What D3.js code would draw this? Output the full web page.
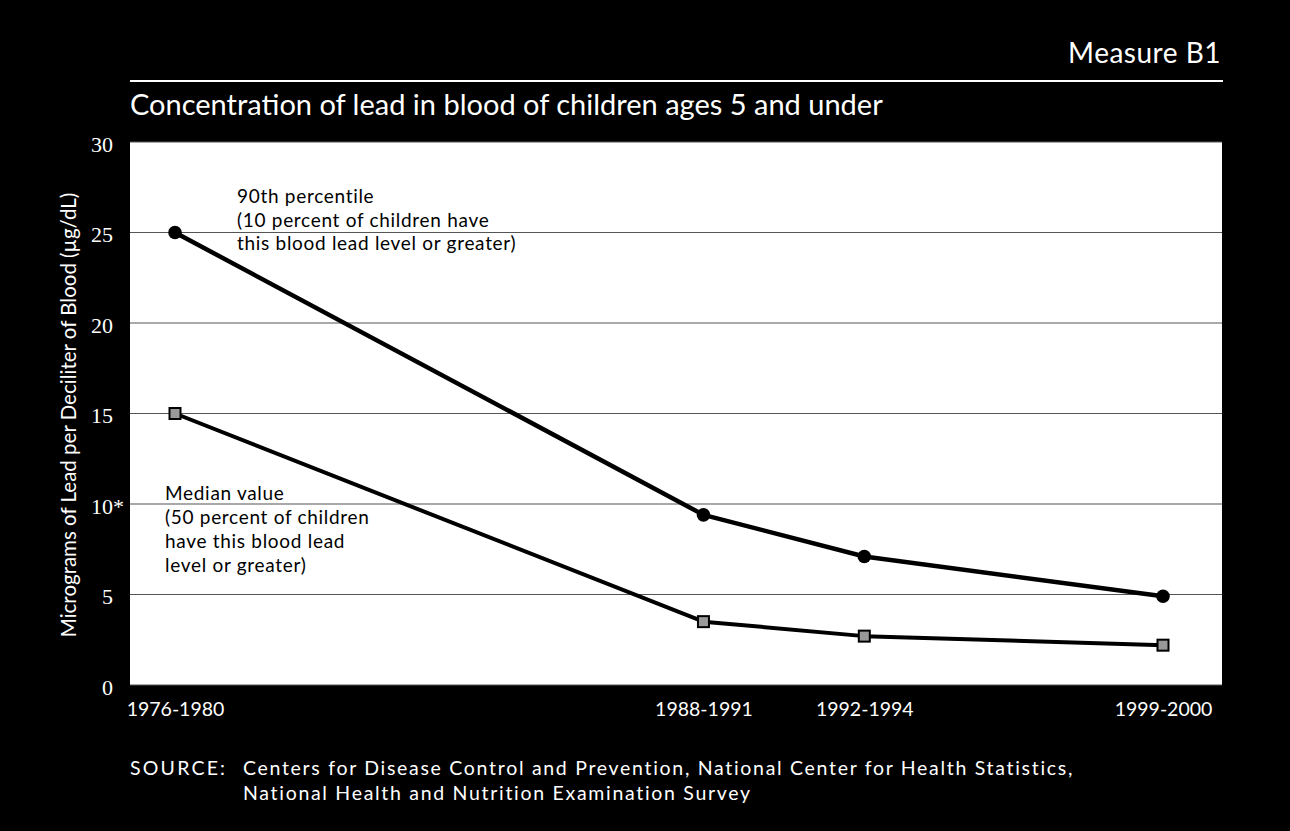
<!DOCTYPE html>
<html><head><meta charset="utf-8">
<script src="https://cdn.jsdelivr.net/npm/d3@7"></script>
<style>html,body{margin:0;padding:0;background:#000;}svg{display:block;}</style>
</head><body>
<svg id="chart" width="1290" height="831"></svg>
<script>
const periods = ["1976-1980", "1988-1991", "1992-1994", "1999-2000"];
const periodMid = [1978, 1989.5, 1993, 1999.5];
const p90 = [25, 9.4, 7.1, 4.9];
const median = [15, 3.5, 2.7, 2.2];
const yTicks = [0, 5, 10, 15, 20, 25, 30];
const yTickLabels = ["0", "5", "10*", "15", "20", "25", "30"];

const svg = d3.select("#chart");
const W = 1290, H = 831;
svg.append("rect").attr("width", W).attr("height", H).attr("fill", "#000");

const plot = {left: 130, right: 1222, top: 142, bottom: 685};
const x = d3.scaleLinear().domain([1978, 1999.5]).range([175, 1163]);
const y = d3.scaleLinear().domain([0, 30]).range([plot.bottom, plot.top]);

const sans = "Lato, 'Open Sans', sans-serif";

// header
svg.append("text").attr("x", 1221).attr("y", 63).attr("text-anchor", "end")
  .attr("fill", "#fff").attr("font-family", sans).attr("font-size", 28)
  .attr("letter-spacing", 0.5).text("Measure B1");
svg.append("line").attr("x1", plot.left).attr("x2", 1223).attr("y1", 81).attr("y2", 81)
  .attr("stroke", "#fff").attr("stroke-width", 2);
svg.append("text").attr("x", plot.left).attr("y", 115)
  .attr("fill", "#fff").attr("font-family", sans).attr("font-size", 29)
  .text("Concentration of lead in blood of children ages 5 and under");

// plot background
svg.append("rect").attr("x", plot.left).attr("y", plot.top)
  .attr("width", plot.right - plot.left).attr("height", plot.bottom - plot.top).attr("fill", "#fff");

// gridlines
svg.append("g").selectAll("line").data(yTicks).join("line")
  .attr("x1", plot.left).attr("x2", plot.right)
  .attr("y1", d => y(d)).attr("y2", d => y(d))
  .attr("stroke", "#555").attr("stroke-width", 1.2);

// y axis labels
const yAxis = d3.axisLeft(y).tickValues(yTicks).tickSize(0).tickPadding(0)
  .tickFormat((d, i) => yTickLabels[i]);
const ya = svg.append("g").attr("transform", `translate(113,0)`).call(yAxis);
ya.select(".domain").remove();
ya.selectAll("text").attr("fill", "#fff").attr("font-family", "'Liberation Serif', 'DejaVu Serif', serif")
  .attr("font-size", 22).attr("text-anchor", "end").attr("dy", "0.42em")
  .attr("dx", (d, i) => yTickLabels[i].includes("*") ? 11 : 0);

svg.append("text")
  .attr("transform", `translate(76,415) rotate(-90)`)
  .attr("text-anchor", "middle").attr("fill", "#fff")
  .attr("font-family", sans).attr("font-size", 20.5)
  .text("Micrograms of Lead per Deciliter of Blood (\u00b5g/dL)");

// x axis labels
const xAxis = d3.axisBottom(x).tickValues(periodMid).tickSize(0).tickPadding(0)
  .tickFormat((d, i) => periods[i]);
const xa = svg.append("g").attr("transform", `translate(0,716)`).call(xAxis);
xa.select(".domain").remove();
xa.selectAll("text").attr("fill", "#fff").attr("font-family", sans)
  .attr("font-size", 19.5).attr("dy", "0");

// lines
const line = d3.line().x(d => x(d[0])).y(d => y(d[1]));
const s90 = periodMid.map((m, i) => [m, p90[i]]);
const sMed = periodMid.map((m, i) => [m, median[i]]);
svg.append("path").datum(s90).attr("d", line).attr("fill", "none")
  .attr("stroke", "#000").attr("stroke-width", 4.5).attr("stroke-linejoin", "round");
svg.append("path").datum(sMed).attr("d", line).attr("fill", "none")
  .attr("stroke", "#000").attr("stroke-width", 4).attr("stroke-linejoin", "round");

svg.append("g").selectAll("circle").data(s90).join("circle")
  .attr("cx", d => x(d[0])).attr("cy", d => y(d[1])).attr("r", 6.8).attr("fill", "#000");
svg.append("g").selectAll("rect").data(sMed).join("rect")
  .attr("x", d => x(d[0]) - 5.5).attr("y", d => y(d[1]) - 5.5)
  .attr("width", 11).attr("height", 11)
  .attr("fill", "#999").attr("stroke", "#000").attr("stroke-width", 2);

// annotations
const a90 = ["90th percentile", "(10 percent of children have", "this blood lead level or greater)"];
svg.append("g").selectAll("text").data(a90).join("text")
  .attr("font-family", sans).attr("font-size", 19).attr("letter-spacing", 0.7).attr("fill", "#000")
  .attr("x", 237).attr("y", (d, i) => 203 + i * 23.5).text(d => d);
const aMed = ["Median value", "(50 percent of children", "have this blood lead", "level or greater)"];
svg.append("g").selectAll("text").data(aMed).join("text")
  .attr("font-family", sans).attr("font-size", 19).attr("letter-spacing", 0.7).attr("fill", "#000")
  .attr("x", 165).attr("y", (d, i) => 500 + i * 24).text(d => d);

// source
svg.append("text").attr("x", plot.left).attr("y", 775).attr("fill", "#fff")
  .attr("font-family", sans).attr("font-size", 19.5).attr("letter-spacing", 2.2).text("SOURCE:");
svg.append("text").attr("x", 243).attr("y", 775).attr("fill", "#fff")
  .attr("font-family", sans).attr("font-size", 19.5).attr("letter-spacing", 1.7)
  .text("Centers for Disease Control and Prevention, National Center for Health Statistics,");
svg.append("text").attr("x", 243).attr("y", 800).attr("fill", "#fff")
  .attr("font-family", sans).attr("font-size", 19.5).attr("letter-spacing", 1.7)
  .text("National Health and Nutrition Examination Survey");
</script>
</body></html>
